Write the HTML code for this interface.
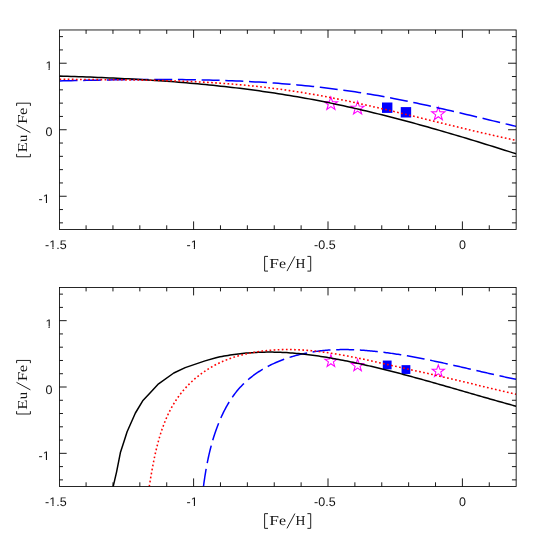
<!DOCTYPE html>
<html><head><meta charset="utf-8"><title>plot</title>
<style>html,body{margin:0;padding:0;background:#fff;}body{width:545px;height:545px;overflow:hidden;font-family:"Liberation Sans",sans-serif;}svg{display:block;}</style>
</head><body>
<svg width="545" height="545" viewBox="0 0 545 545">
<rect width="545" height="545" fill="#fff"/>
<defs><clipPath id="c1"><rect x="59.57" y="29.97" width="456.58" height="199.53"/></clipPath><clipPath id="c2"><rect x="59.57" y="287.5" width="456.58" height="199.0"/></clipPath></defs>
<g clip-path="url(#c1)">
<polygon points="330.90,97.00 332.52,101.67 337.46,101.77 333.52,104.75 334.96,109.48 330.90,106.66 326.84,109.48 328.28,104.75 324.34,101.77 329.28,101.67" fill="none" stroke="#ff00ff" stroke-width="1.1" stroke-linejoin="miter"/>
<polygon points="357.60,101.40 359.22,106.07 364.16,106.17 360.22,109.15 361.66,113.88 357.60,111.06 353.54,113.88 354.98,109.15 351.04,106.17 355.98,106.07" fill="none" stroke="#ff00ff" stroke-width="1.1" stroke-linejoin="miter"/>
<polygon points="438.30,107.10 439.92,111.77 444.86,111.87 440.92,114.85 442.36,119.58 438.30,116.76 434.24,119.58 435.68,114.85 431.74,111.87 436.68,111.77" fill="none" stroke="#ff00ff" stroke-width="1.1" stroke-linejoin="miter"/>
<rect x="382.00" y="102.50" width="10.40" height="10.40" fill="#0000ff"/>
<rect x="400.75" y="107.10" width="10.40" height="10.40" fill="#0000ff"/>
<path d="M59.50 80.95L63.34 80.86L67.18 80.77L71.01 80.69L74.85 80.60L78.69 80.52L82.53 80.44L86.36 80.36L90.20 80.28L94.04 80.20L97.88 80.13L101.72 80.06L105.55 79.99L109.39 79.93L113.23 79.87L117.07 79.81L120.91 79.76L124.74 79.71L128.58 79.66L132.42 79.62L136.26 79.58L140.09 79.55L143.93 79.53L147.77 79.51L151.61 79.49L155.45 79.48L159.28 79.48L163.12 79.48L166.96 79.49L170.80 79.50L174.63 79.52L178.47 79.55L182.31 79.59L186.15 79.63L189.99 79.68L193.82 79.74L197.66 79.80L201.50 79.88L205.34 79.96L209.17 80.05L213.01 80.15L216.85 80.26L220.69 80.38L224.53 80.50L228.36 80.64L232.20 80.79L236.04 80.94L239.88 81.11L243.72 81.28L247.55 81.47L251.39 81.67L255.23 81.88L259.07 82.10L262.90 82.33L266.74 82.57L270.58 82.83L274.42 83.09L278.26 83.37L282.09 83.66L285.93 83.97L289.77 84.28L293.61 84.61L297.44 84.96L301.28 85.31L305.12 85.68L308.96 86.07L312.80 86.46L316.63 86.88L320.47 87.30L324.31 87.74L328.15 88.20L331.98 88.67L335.82 89.16L339.66 89.66L343.50 90.18L347.34 90.71L351.17 91.26L355.01 91.82L358.85 92.41L362.69 93.00L366.53 93.62L370.36 94.25L374.20 94.90L378.04 95.57L381.88 96.26L385.71 96.96L389.55 97.67L393.39 98.41L397.23 99.15L401.07 99.91L404.90 100.69L408.74 101.48L412.58 102.28L416.42 103.09L420.25 103.91L424.09 104.74L427.93 105.59L431.77 106.44L435.61 107.30L439.44 108.17L443.28 109.05L447.12 109.93L450.96 110.82L454.79 111.72L458.63 112.62L462.47 113.53L466.31 114.44L470.15 115.35L473.98 116.27L477.82 117.19L481.66 118.11L485.50 119.03L489.34 119.95L493.17 120.88L497.01 121.80L500.85 122.72L504.69 123.64L508.52 124.55L512.36 125.47L516.20 126.38" fill="none" stroke="#0000ff" stroke-width="1.5" stroke-linecap="butt" stroke-linejoin="round" stroke-dasharray="18 5.69" stroke-dashoffset="0"/>
<path d="M59.50 76.08L63.34 76.19L67.18 76.31L71.01 76.43L74.85 76.55L78.69 76.68L82.53 76.81L86.36 76.95L90.20 77.09L94.04 77.24L97.88 77.40L101.72 77.56L105.55 77.72L109.39 77.89L113.23 78.07L117.07 78.25L120.91 78.44L124.74 78.64L128.58 78.84L132.42 79.05L136.26 79.27L140.09 79.49L143.93 79.72L147.77 79.96L151.61 80.21L155.45 80.46L159.28 80.73L163.12 81.00L166.96 81.27L170.80 81.56L174.63 81.86L178.47 82.16L182.31 82.47L186.15 82.80L189.99 83.13L193.82 83.47L197.66 83.82L201.50 84.18L205.34 84.55L209.17 84.93L213.01 85.32L216.85 85.72L220.69 86.13L224.53 86.55L228.36 86.99L232.20 87.43L236.04 87.88L239.88 88.35L243.72 88.83L247.55 89.32L251.39 89.82L255.23 90.33L259.07 90.86L262.90 91.40L266.74 91.95L270.58 92.51L274.42 93.09L278.26 93.68L282.09 94.28L285.93 94.89L289.77 95.52L293.61 96.17L297.44 96.82L301.28 97.49L305.12 98.18L308.96 98.88L312.80 99.59L316.63 100.32L320.47 101.06L324.31 101.82L328.15 102.59L331.98 103.38L335.82 104.18L339.66 104.99L343.50 105.82L347.34 106.66L351.17 107.52L355.01 108.39L358.85 109.27L362.69 110.16L366.53 111.07L370.36 111.99L374.20 112.92L378.04 113.86L381.88 114.82L385.71 115.78L389.55 116.76L393.39 117.75L397.23 118.75L401.07 119.75L404.90 120.77L408.74 121.80L412.58 122.84L416.42 123.89L420.25 124.95L424.09 126.02L427.93 127.09L431.77 128.18L435.61 129.27L439.44 130.37L443.28 131.48L447.12 132.60L450.96 133.73L454.79 134.86L458.63 136.00L462.47 137.14L466.31 138.30L470.15 139.46L473.98 140.62L477.82 141.80L481.66 142.98L485.50 144.16L489.34 145.35L493.17 146.54L497.01 147.74L500.85 148.95L504.69 150.16L508.52 151.37L512.36 152.59L516.20 153.81" fill="none" stroke="#000" stroke-width="1.5" stroke-linecap="butt" stroke-linejoin="round"/>
<path d="M59.50 79.20L63.34 79.25L67.18 79.30L71.01 79.35L74.85 79.39L78.69 79.43L82.53 79.47L86.36 79.51L90.20 79.54L94.04 79.57L97.88 79.61L101.72 79.64L105.55 79.68L109.39 79.71L113.23 79.75L117.07 79.79L120.91 79.83L124.74 79.87L128.58 79.92L132.42 79.97L136.26 80.03L140.09 80.09L143.93 80.15L147.77 80.22L151.61 80.30L155.45 80.38L159.28 80.47L163.12 80.57L166.96 80.68L170.80 80.79L174.63 80.91L178.47 81.04L182.31 81.18L186.15 81.33L189.99 81.50L193.82 81.67L197.66 81.85L201.50 82.05L205.34 82.26L209.17 82.48L213.01 82.71L216.85 82.96L220.69 83.22L224.53 83.50L228.36 83.79L232.20 84.09L236.04 84.41L239.88 84.74L243.72 85.09L247.55 85.46L251.39 85.84L255.23 86.24L259.07 86.65L262.90 87.08L266.74 87.53L270.58 88.00L274.42 88.49L278.26 88.99L282.09 89.51L285.93 90.05L289.77 90.61L293.61 91.18L297.44 91.77L301.28 92.38L305.12 93.01L308.96 93.65L312.80 94.31L316.63 94.99L320.47 95.68L324.31 96.39L328.15 97.12L331.98 97.86L335.82 98.62L339.66 99.39L343.50 100.18L347.34 100.98L351.17 101.79L355.01 102.61L358.85 103.45L362.69 104.29L366.53 105.15L370.36 106.01L374.20 106.89L378.04 107.77L381.88 108.66L385.71 109.56L389.55 110.46L393.39 111.37L397.23 112.29L401.07 113.21L404.90 114.14L408.74 115.07L412.58 116.00L416.42 116.94L420.25 117.88L424.09 118.82L427.93 119.76L431.77 120.70L435.61 121.64L439.44 122.58L443.28 123.52L447.12 124.46L450.96 125.39L454.79 126.33L458.63 127.25L462.47 128.18L466.31 129.10L470.15 130.01L473.98 130.92L477.82 131.82L481.66 132.71L485.50 133.60L489.34 134.48L493.17 135.35L497.01 136.21L500.85 137.06L504.69 137.90L508.52 138.73L512.36 139.54L516.20 140.35" fill="none" stroke="#ff0000" stroke-width="1.55" stroke-linecap="butt" stroke-linejoin="round" stroke-dasharray="1.7 2.4" stroke-dashoffset="0"/>
</g>
<g clip-path="url(#c2)">
<polygon points="330.90,354.70 332.42,359.06 337.03,359.16 333.35,361.95 334.69,366.37 330.90,363.73 327.11,366.37 328.45,361.95 324.77,359.16 329.38,359.06" fill="none" stroke="#ff00ff" stroke-width="1.05" stroke-linejoin="miter"/>
<polygon points="357.60,359.10 359.12,363.46 363.73,363.56 360.05,366.35 361.39,370.77 357.60,368.13 353.81,370.77 355.15,366.35 351.47,363.56 356.08,363.46" fill="none" stroke="#ff00ff" stroke-width="1.05" stroke-linejoin="miter"/>
<polygon points="438.30,364.80 439.82,369.16 444.43,369.26 440.75,372.05 442.09,376.47 438.30,373.83 434.51,376.47 435.85,372.05 432.17,369.26 436.78,369.16" fill="none" stroke="#ff00ff" stroke-width="1.05" stroke-linejoin="miter"/>
<rect x="382.80" y="360.55" width="8.80" height="8.80" fill="#0000ff"/>
<rect x="401.55" y="365.15" width="8.80" height="8.80" fill="#0000ff"/>
<path d="M203.43 486.58L203.61 485.29L203.79 483.99L203.97 482.69L204.15 481.39L204.34 480.09L204.54 478.79L204.73 477.49L204.93 476.19L205.14 474.89L205.35 473.59L205.56 472.29L205.78 470.99L206.01 469.69L206.23 468.39L206.47 467.09L206.71 465.79L206.95 464.50L207.20 463.20L207.46 461.91L207.72 460.61L207.99 459.32L208.26 458.02L208.54 456.73L208.83 455.44L209.12 454.15L209.42 452.86L209.72 451.58L210.04 450.29L210.36 449.01L210.68 447.72L211.02 446.44L211.36 445.16L211.71 443.88L212.07 442.60L212.43 441.33L212.80 440.06L213.19 438.78L213.57 437.51L213.97 436.25L214.38 434.98L214.79 433.72L215.22 432.46L215.65 431.20L216.09 429.94L216.55 428.68L217.01 427.43L217.48 426.18L217.96 424.93L218.45 423.69L218.95 422.45L219.46 421.21L219.98 419.97L220.51 418.74L221.05 417.51L221.60 416.29L222.16 415.07L222.74 413.86L223.32 412.65L223.92 411.45L224.53 410.26L225.15 409.07L225.78 407.89L226.42 406.72L227.07 405.55L227.74 404.40L228.42 403.25L229.11 402.11L229.81 400.98L230.53 399.86L231.25 398.76L232.00 397.66L232.75 396.57L233.52 395.50L234.30 394.44L235.09 393.39L235.90 392.35L236.72 391.33L237.56 390.31L238.41 389.32L239.27 388.34L240.15 387.37L241.04 386.41L241.94 385.47L242.86 384.54L243.78 383.63L244.73 382.73L245.68 381.84L246.65 380.96L247.62 380.10L248.61 379.26L249.61 378.42L250.63 377.60L251.65 376.79L252.69 376.00L253.73 375.22L254.79 374.45L255.85 373.69L256.93 372.95L258.02 372.22L259.11 371.50L260.22 370.80L261.33 370.10L262.46 369.43L263.59 368.76L264.73 368.10L265.88 367.46L267.04 366.83L268.20 366.22L269.38 365.61L270.56 365.02L271.75 364.44L272.95 363.87L274.15 363.31L275.36 362.77L276.58 362.24L277.80 361.72L279.03 361.21L280.27 360.71L281.51 360.23L282.76 359.75L284.01 359.29L285.27 358.84L286.53 358.40L287.80 357.97L289.07 357.56L290.35 357.15L291.63 356.76L292.91 356.38L294.20 356.01L295.49 355.65L296.79 355.30L298.09 354.96L299.39 354.64L300.70 354.32L302.00 354.02L303.31 353.72L304.63 353.44L305.94 353.17L307.25 352.91L308.57 352.66L309.89 352.42L311.21 352.19L312.53 351.97L313.85 351.76L315.17 351.56L316.50 351.37L317.82 351.19L319.14 351.02L320.46 350.86L321.79 350.72L323.11 350.58L324.43 350.45L325.75 350.33L327.07 350.22L328.39 350.12L329.71 350.03L331.03 349.95L332.35 349.87L333.67 349.81L334.99 349.75L336.31 349.70L337.63 349.66L338.95 349.63L340.27 349.61L341.59 349.59L342.91 349.58L344.23 349.58L345.55 349.58L346.87 349.60L348.18 349.62L349.50 349.65L350.82 349.68L352.14 349.72L353.45 349.77L354.77 349.82L356.09 349.88L357.40 349.95L358.72 350.02L360.03 350.09L361.35 350.18L362.66 350.27L363.98 350.36L365.29 350.46L366.61 350.56L367.92 350.67L369.24 350.78L370.55 350.90L371.87 351.03L373.18 351.15L374.49 351.29L375.81 351.42L377.12 351.56L378.43 351.71L379.74 351.86L381.05 352.01L382.37 352.17L383.68 352.33L384.99 352.49L386.30 352.66L387.61 352.84L388.92 353.01L390.23 353.20L391.54 353.38L392.85 353.57L394.16 353.76L395.47 353.96L396.78 354.15L398.09 354.36L399.40 354.56L400.70 354.77L402.01 354.98L403.32 355.20L404.63 355.42L405.94 355.64L407.24 355.86L408.55 356.09L409.86 356.32L411.16 356.55L412.47 356.79L413.77 357.03L415.08 357.27L416.38 357.51L417.69 357.76L418.99 358.00L420.30 358.25L421.60 358.51L422.90 358.76L424.21 359.02L425.51 359.28L426.81 359.54L428.12 359.81L429.42 360.07L430.72 360.34L432.02 360.61L433.32 360.88L434.62 361.15L435.92 361.43L437.23 361.70L438.53 361.98L439.83 362.26L441.12 362.54L442.42 362.82L443.72 363.11L445.02 363.39L446.32 363.68L447.62 363.96L448.92 364.25L450.21 364.54L451.51 364.83L452.81 365.12L454.10 365.42L455.40 365.71L456.70 366.00L457.99 366.30L459.29 366.59L460.58 366.89L461.88 367.18L463.17 367.48L464.47 367.78L465.76 368.07L467.05 368.37L468.35 368.67L469.64 368.97L470.93 369.27L472.23 369.57L473.52 369.86L474.81 370.16L476.10 370.46L477.39 370.76L478.68 371.06L479.97 371.35L481.26 371.65L482.55 371.95L483.84 372.24L485.13 372.54L486.42 372.83L487.71 373.13L489.00 373.42L490.28 373.72L491.57 374.01L492.86 374.30L494.14 374.59L495.43 374.88L496.72 375.17L498.00 375.46L499.29 375.74L500.57 376.03L501.86 376.31L503.14 376.59L504.43 376.87L505.71 377.15L506.99 377.43L508.28 377.71L509.56 377.98L510.84 378.26L512.12 378.53L513.40 378.80L514.69 379.07L515.97 379.33" fill="none" stroke="#0000ff" stroke-width="1.5" stroke-linecap="butt" stroke-linejoin="round" stroke-dasharray="18 5.69" stroke-dashoffset="0"/>
<path d="M113.15 486.60L116.60 471.80L120.40 452.60L124.40 440.30L127.10 431.70L135.40 413.00L142.70 400.80L150.00 392.90L158.55 383.85L173.80 373.00L185.20 367.60L205.00 360.90L216.00 357.70L218.01 357.27L220.03 356.86L222.04 356.47L224.06 356.09L226.07 355.74L228.08 355.40L230.10 355.07L232.11 354.77L234.13 354.48L236.14 354.21L238.16 353.96L240.17 353.72L242.18 353.50L244.20 353.29L246.21 353.11L248.23 352.93L250.24 352.78L252.25 352.64L254.27 352.52L256.28 352.41L258.30 352.32L260.31 352.24L262.32 352.18L264.34 352.13L266.35 352.10L268.37 352.09L270.38 352.09L272.39 352.10L274.41 352.13L276.42 352.18L278.44 352.24L280.45 352.31L282.47 352.40L284.48 352.50L286.49 352.61L288.51 352.74L290.52 352.88L292.54 353.04L294.55 353.20L296.56 353.38L298.58 353.57L300.59 353.78L302.61 353.99L304.62 354.22L306.63 354.45L308.65 354.70L310.66 354.96L312.68 355.22L314.69 355.50L316.70 355.79L318.72 356.08L320.73 356.39L322.75 356.71L324.76 357.03L326.78 357.36L328.79 357.70L330.80 358.05L332.82 358.40L334.83 358.77L336.85 359.14L338.86 359.51L340.87 359.90L342.89 360.28L344.90 360.68L346.92 361.08L348.93 361.49L350.94 361.90L352.96 362.32L354.97 362.75L356.99 363.18L359.00 363.62L361.01 364.06L363.03 364.51L365.04 364.96L367.06 365.42L369.07 365.88L371.09 366.35L373.10 366.82L375.11 367.30L377.13 367.78L379.14 368.27L381.16 368.76L383.17 369.25L385.18 369.75L387.20 370.25L389.21 370.76L391.23 371.27L393.24 371.79L395.25 372.30L397.27 372.83L399.28 373.35L401.30 373.88L403.31 374.41L405.32 374.95L407.34 375.49L409.35 376.03L411.37 376.57L413.38 377.12L415.40 377.67L417.41 378.22L419.42 378.78L421.44 379.33L423.45 379.89L425.47 380.45L427.48 381.02L429.49 381.58L431.51 382.15L433.52 382.72L435.54 383.29L437.55 383.86L439.56 384.43L441.58 385.01L443.59 385.58L445.61 386.16L447.62 386.74L449.63 387.32L451.65 387.90L453.66 388.48L455.68 389.06L457.69 389.64L459.71 390.22L461.72 390.80L463.73 391.38L465.75 391.97L467.76 392.55L469.78 393.13L471.79 393.71L473.80 394.29L475.82 394.87L477.83 395.45L479.85 396.03L481.86 396.61L483.87 397.19L485.89 397.77L487.90 398.34L489.92 398.92L491.93 399.49L493.94 400.06L495.96 400.63L497.97 401.20L499.99 401.77L502.00 402.33L504.02 402.90L506.03 403.46L508.04 404.02L510.06 404.57L512.07 405.13L514.09 405.68L516.10 406.23" fill="none" stroke="#000" stroke-width="1.5" stroke-linecap="butt" stroke-linejoin="round"/>
<path d="M149.27 486.46L149.50 485.02L149.74 483.57L149.98 482.11L150.22 480.66L150.46 479.19L150.70 477.73L150.95 476.26L151.20 474.79L151.45 473.32L151.71 471.84L151.97 470.36L152.24 468.88L152.51 467.40L152.79 465.91L153.07 464.43L153.36 462.94L153.65 461.46L153.95 459.97L154.25 458.48L154.57 456.99L154.88 455.51L155.21 454.02L155.54 452.53L155.89 451.05L156.24 449.56L156.59 448.08L156.96 446.60L157.34 445.12L157.72 443.64L158.12 442.17L158.52 440.70L158.94 439.23L159.36 437.76L159.80 436.30L160.24 434.84L160.70 433.39L161.17 431.94L161.65 430.49L162.15 429.05L162.65 427.61L163.17 426.18L163.70 424.76L164.25 423.34L164.81 421.93L165.38 420.52L165.97 419.12L166.57 417.73L167.18 416.35L167.81 414.97L168.46 413.60L169.12 412.24L169.80 410.89L170.49 409.55L171.20 408.22L171.93 406.90L172.67 405.59L173.44 404.29L174.21 403.00L175.01 401.72L175.83 400.46L176.66 399.20L177.51 397.96L178.38 396.73L179.27 395.51L180.18 394.31L181.11 393.12L182.05 391.94L183.01 390.78L184.00 389.63L184.99 388.49L186.01 387.37L187.04 386.26L188.09 385.17L189.15 384.09L190.23 383.03L191.33 381.99L192.44 380.95L193.56 379.94L194.70 378.94L195.86 377.95L197.03 376.99L198.21 376.03L199.41 375.10L200.61 374.18L201.84 373.28L203.07 372.40L204.32 371.53L205.58 370.68L206.85 369.85L208.13 369.04L209.42 368.24L210.73 367.47L212.04 366.71L213.37 365.97L214.70 365.25L216.04 364.55L217.40 363.87L218.76 363.21L220.13 362.56L221.51 361.94L222.90 361.33L224.30 360.74L225.70 360.17L227.11 359.62L228.53 359.08L229.95 358.56L231.38 358.06L232.82 357.57L234.26 357.10L235.71 356.65L237.16 356.21L238.62 355.79L240.09 355.39L241.55 355.00L243.02 354.62L244.50 354.27L245.98 353.92L247.46 353.59L248.95 353.28L250.43 352.98L251.92 352.69L253.41 352.42L254.91 352.16L256.40 351.91L257.90 351.68L259.40 351.46L260.89 351.26L262.39 351.06L263.89 350.88L265.39 350.71L266.88 350.56L268.38 350.41L269.88 350.28L271.38 350.16L272.87 350.05L274.37 349.95L275.87 349.86L277.37 349.79L278.86 349.72L280.36 349.67L281.86 349.62L283.36 349.59L284.85 349.57L286.35 349.56L287.85 349.56L289.35 349.56L290.85 349.58L292.34 349.61L293.84 349.64L295.34 349.69L296.84 349.75L298.33 349.81L299.83 349.88L301.33 349.97L302.82 350.06L304.32 350.16L305.82 350.26L307.32 350.38L308.81 350.50L310.31 350.63L311.81 350.77L313.30 350.92L314.80 351.07L316.30 351.23L317.79 351.40L319.29 351.58L320.79 351.76L322.28 351.95L323.78 352.15L325.27 352.35L326.77 352.56L328.27 352.77L329.76 352.99L331.26 353.22L332.75 353.45L334.25 353.68L335.74 353.93L337.24 354.17L338.73 354.43L340.23 354.68L341.72 354.95L343.21 355.21L344.71 355.48L346.20 355.76L347.70 356.04L349.19 356.32L350.68 356.61L352.18 356.90L353.67 357.20L355.16 357.50L356.66 357.80L358.15 358.10L359.64 358.41L361.13 358.72L362.63 359.03L364.12 359.35L365.61 359.67L367.10 359.99L368.59 360.31L370.08 360.64L371.57 360.96L373.06 361.29L374.56 361.62L376.05 361.95L377.54 362.28L379.02 362.62L380.51 362.95L382.00 363.28L383.49 363.62L384.98 363.96L386.47 364.29L387.96 364.63L389.45 364.96L390.93 365.30L392.42 365.64L393.91 365.97L395.39 366.31L396.88 366.64L398.37 366.97L399.85 367.31L401.34 367.64L402.82 367.97L404.31 368.30L405.79 368.62L407.28 368.95L408.76 369.28L410.25 369.60L411.73 369.93L413.21 370.25L414.70 370.58L416.18 370.90L417.66 371.23L419.14 371.55L420.63 371.88L422.11 372.20L423.59 372.53L425.07 372.85L426.55 373.18L428.03 373.51L429.51 373.84L430.99 374.17L432.47 374.50L433.95 374.83L435.42 375.17L436.90 375.50L438.38 375.84L439.86 376.18L441.33 376.52L442.81 376.86L444.28 377.20L445.76 377.54L447.23 377.89L448.71 378.23L450.18 378.58L451.66 378.92L453.13 379.27L454.60 379.62L456.08 379.97L457.55 380.32L459.02 380.67L460.49 381.02L461.96 381.37L463.43 381.72L464.90 382.08L466.37 382.43L467.84 382.79L469.31 383.14L470.78 383.50L472.25 383.85L473.71 384.21L475.18 384.56L476.65 384.92L478.11 385.28L479.58 385.63L481.04 385.99L482.51 386.34L483.97 386.70L485.44 387.05L486.90 387.40L488.36 387.76L489.82 388.11L491.29 388.46L492.75 388.81L494.21 389.16L495.67 389.50L497.13 389.85L498.59 390.19L500.04 390.54L501.50 390.88L502.96 391.22L504.42 391.55L505.87 391.89L507.33 392.23L508.78 392.56L510.24 392.89L511.69 393.21L513.15 393.54L514.60 393.86L516.05 394.18" fill="none" stroke="#ff0000" stroke-width="1.55" stroke-linecap="butt" stroke-linejoin="round" stroke-dasharray="1.7 2.4" stroke-dashoffset="0"/>
</g>
<rect x="59.57" y="29.97" width="456.58" height="199.53" fill="none" stroke="#000" stroke-width="0.85"/>
<path d="M86.08 229.50v-4.20M86.08 29.97v3.90M112.96 229.50v-4.20M112.96 29.97v3.90M139.84 229.50v-4.20M139.84 29.97v3.90M166.72 229.50v-4.20M166.72 29.97v3.90M193.60 229.50v-8.10M193.60 29.97v7.90M220.48 229.50v-4.20M220.48 29.97v3.90M247.36 229.50v-4.20M247.36 29.97v3.90M274.24 229.50v-4.20M274.24 29.97v3.90M301.12 229.50v-4.20M301.12 29.97v3.90M328.00 229.50v-8.10M328.00 29.97v7.90M354.88 229.50v-4.20M354.88 29.97v3.90M381.76 229.50v-4.20M381.76 29.97v3.90M408.64 229.50v-4.20M408.64 29.97v3.90M435.52 229.50v-4.20M435.52 29.97v3.90M462.40 229.50v-8.10M462.40 29.97v7.90M489.28 229.50v-4.20M489.28 29.97v3.90M59.57 222.85h3.40M516.15 222.85h-4.20M59.57 209.55h3.40M516.15 209.55h-4.20M59.57 196.25h7.10M516.15 196.25h-8.10M59.57 182.94h3.40M516.15 182.94h-4.20M59.57 169.64h3.40M516.15 169.64h-4.20M59.57 156.34h3.40M516.15 156.34h-4.20M59.57 143.04h3.40M516.15 143.04h-4.20M59.57 129.74h7.10M516.15 129.74h-8.10M59.57 116.43h3.40M516.15 116.43h-4.20M59.57 103.13h3.40M516.15 103.13h-4.20M59.57 89.83h3.40M516.15 89.83h-4.20M59.57 76.53h3.40M516.15 76.53h-4.20M59.57 63.23h7.10M516.15 63.23h-8.10M59.57 49.92h3.40M516.15 49.92h-4.20M59.57 36.62h3.40M516.15 36.62h-4.20" fill="none" stroke="#000" stroke-width="0.9"/>
<rect x="59.57" y="287.50" width="456.58" height="199.00" fill="none" stroke="#000" stroke-width="0.85"/>
<path d="M86.08 486.50v-4.20M86.08 287.50v3.90M112.96 486.50v-4.20M112.96 287.50v3.90M139.84 486.50v-4.20M139.84 287.50v3.90M166.72 486.50v-4.20M166.72 287.50v3.90M193.60 486.50v-8.10M193.60 287.50v7.90M220.48 486.50v-4.20M220.48 287.50v3.90M247.36 486.50v-4.20M247.36 287.50v3.90M274.24 486.50v-4.20M274.24 287.50v3.90M301.12 486.50v-4.20M301.12 287.50v3.90M328.00 486.50v-8.10M328.00 287.50v7.90M354.88 486.50v-4.20M354.88 287.50v3.90M381.76 486.50v-4.20M381.76 287.50v3.90M408.64 486.50v-4.20M408.64 287.50v3.90M435.52 486.50v-4.20M435.52 287.50v3.90M462.40 486.50v-8.10M462.40 287.50v7.90M489.28 486.50v-4.20M489.28 287.50v3.90M59.57 479.87h3.40M516.15 479.87h-4.20M59.57 466.60h3.40M516.15 466.60h-4.20M59.57 453.33h7.10M516.15 453.33h-8.10M59.57 440.07h3.40M516.15 440.07h-4.20M59.57 426.80h3.40M516.15 426.80h-4.20M59.57 413.53h3.40M516.15 413.53h-4.20M59.57 400.27h3.40M516.15 400.27h-4.20M59.57 387.00h7.10M516.15 387.00h-8.10M59.57 373.73h3.40M516.15 373.73h-4.20M59.57 360.47h3.40M516.15 360.47h-4.20M59.57 347.20h3.40M516.15 347.20h-4.20M59.57 333.93h3.40M516.15 333.93h-4.20M59.57 320.67h7.10M516.15 320.67h-8.10M59.57 307.40h3.40M516.15 307.40h-4.20M59.57 294.13h3.40M516.15 294.13h-4.20" fill="none" stroke="#000" stroke-width="0.9"/>
<g style="will-change:transform">
<g font-family="Liberation Sans, sans-serif" font-size="12.5" fill="#111" style="text-rendering:geometricPrecision">
<text x="45.10" y="248.60">-1.5</text>
<text x="186.50" y="248.60">-1</text>
<text x="314.10" y="248.60">-0.5</text>
<text x="459.00" y="248.60">0</text>
<text x="45.40" y="69.83">1</text>
<text x="45.40" y="136.34">0</text>
<text x="38.60" y="202.84">-1</text>
<text x="45.10" y="506.15">-1.5</text>
<text x="186.50" y="506.15">-1</text>
<text x="314.10" y="506.15">-0.5</text>
<text x="459.00" y="506.15">0</text>
<text x="45.40" y="327.57">1</text>
<text x="45.40" y="393.90">0</text>
<text x="38.60" y="460.23">-1</text>
</g>
<path d="M49.14 247.00h3.27v2.50h-3.27zM53.51 247.00h3.38v2.50h-3.38zM190.54 247.00h3.27v2.50h-3.27zM194.91 247.00h3.38v2.50h-3.38zM45.28 68.23h3.27v2.50h-3.27zM49.65 68.23h3.38v2.50h-3.38zM42.64 201.25h3.27v2.50h-3.27zM47.01 201.25h3.38v2.50h-3.38zM49.14 504.55h3.27v2.50h-3.27zM53.51 504.55h3.38v2.50h-3.38zM190.54 504.55h3.27v2.50h-3.27zM194.91 504.55h3.38v2.50h-3.38zM45.28 325.97h3.27v2.50h-3.27zM49.65 325.97h3.38v2.50h-3.38zM42.64 458.63h3.27v2.50h-3.27zM47.01 458.63h3.38v2.50h-3.38z" fill="#fff"/>
<g font-family="Liberation Serif, serif" font-size="13.7" fill="#151515" style="text-rendering:geometricPrecision">
<path d="M268.0 256.40H264.6V271.10H268.0M307.4 256.40H310.7V271.10H307.4M287.0 271.10L294.9 256.30" fill="none" stroke="#151515" stroke-width="0.95"/>
<text transform="translate(269.30 268.00) scale(1.27 1)">F</text>
<text transform="translate(278.88 268.00) scale(1.16 1)">e</text>
<text transform="translate(295.61 268.00) scale(1.0 1)">H</text>
<path d="M268.0 513.65H264.6V528.35H268.0M307.4 513.65H310.7V528.35H307.4M287.0 528.35L294.9 513.55" fill="none" stroke="#151515" stroke-width="0.95"/>
<text transform="translate(269.30 525.25) scale(1.27 1)">F</text>
<text transform="translate(278.88 525.25) scale(1.16 1)">e</text>
<text transform="translate(295.61 525.25) scale(1.0 1)">H</text>
<g transform="translate(27.00 157.30) rotate(-90)">
<path d="M3.4 -10.4H0.55V3.4H3.4M51.4 -10.4H54.1V3.4H51.4M24.7 3.4L32.2 -10.5" fill="none" stroke="#151515" stroke-width="0.95"/>
<text transform="translate(4.72 0.00) scale(1.22 1)">E</text>
<text transform="translate(15.21 0.00) scale(1.06 1)">u</text>
<text transform="translate(33.21 0.00) scale(1.25 1)">F</text>
<text transform="translate(42.25 0.00) scale(1.22 1)">e</text>
</g>
<g transform="translate(27.00 414.55) rotate(-90)">
<path d="M3.4 -10.4H0.55V3.4H3.4M51.4 -10.4H54.1V3.4H51.4M24.7 3.4L32.2 -10.5" fill="none" stroke="#151515" stroke-width="0.95"/>
<text transform="translate(4.72 0.00) scale(1.22 1)">E</text>
<text transform="translate(15.21 0.00) scale(1.06 1)">u</text>
<text transform="translate(33.21 0.00) scale(1.25 1)">F</text>
<text transform="translate(42.25 0.00) scale(1.22 1)">e</text>
</g>
</g>
</g>
</svg>
</body></html>
